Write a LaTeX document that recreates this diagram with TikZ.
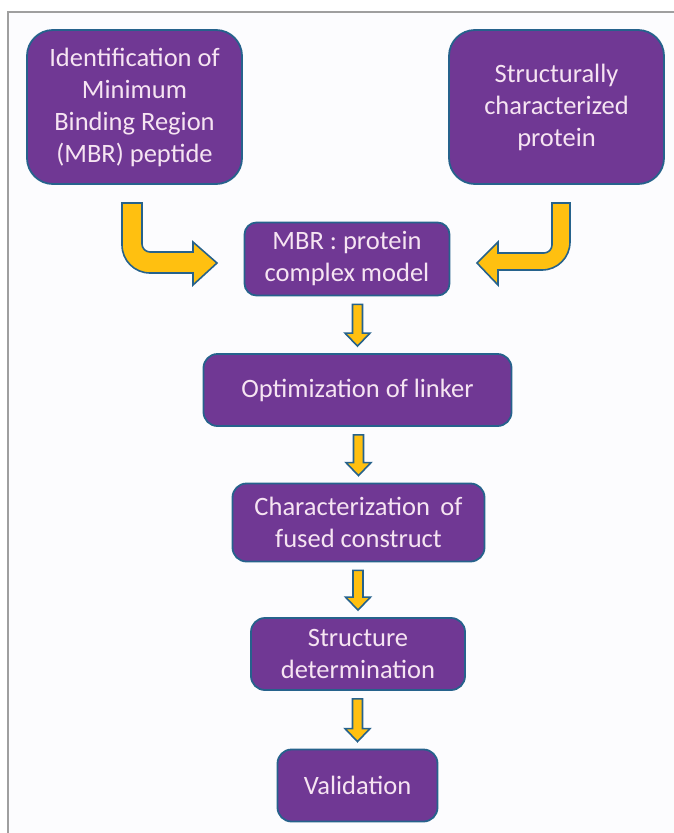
\documentclass[tikz,border=0pt]{standalone}
\usepackage{fontspec}
\setmainfont{Carlito}
\usetikzlibrary{calc}
\definecolor{boxfill}{RGB}{112,56,148}
\definecolor{boxline}{RGB}{38,98,140}
\definecolor{boxtext}{RGB}{246,228,242}
\definecolor{gold}{RGB}{255,192,16}
\definecolor{bg}{RGB}{252,252,254}
\tikzset{
  box/.style={draw=boxline, line width=1.8pt, fill=boxfill, text=boxtext,
    align=center, inner sep=0pt, font=\fontsize{26.5}{32}\selectfont},
  arr/.style={draw=boxline, line width=1.6pt, fill=gold, line join=miter},
}
\newcommand\fatdown[2]{%
  \filldraw[arr] let \p1=(#1.south), \p2=(#2.north), \n1={\x2}, \n2={\y1-8pt}, \n3={\y2+7pt} in
    (\n1-5pt,\n2) -- (\n1+5pt,\n2) -- (\n1+5pt,\n3+13pt) -- (\n1+12.5pt,\n3+13pt)
    -- (\n1,\n3) -- (\n1-12.5pt,\n3+13pt) -- (\n1-5pt,\n3+13pt) -- cycle;}
\begin{document}
\begin{tikzpicture}[x=1pt,y=-1pt]
\useasboundingbox (0,0) rectangle (674,833);
\fill[bg] (8,12) rectangle (674,833);
\draw[gray!75, line width=1.2pt] (8,833) -- (8,12) -- (674,12);

\node[box, minimum width=215pt, minimum height=154pt, rounded corners=26pt] (b1) at (134.5,107)
  {Identification of\\Minimum\\Binding Region\\(MBR) peptide};
\node[box, minimum width=215pt, minimum height=154pt, rounded corners=26pt] (b2) at (556.5,107)
  {Structurally\\characterized\\protein};
\node[box, minimum width=205pt, minimum height=73pt, rounded corners=12pt] (b3) at (347,259)
  {MBR : protein\\complex model};
\node[box, minimum width=308pt, minimum height=72pt, rounded corners=14pt] (b4) at (357.5,390)
  {Optimization of linker};
\node[box, minimum width=252pt, minimum height=78pt, rounded corners=14pt] (b5) at (358.5,522.5)
  {Characterization\, of\\fused construct};
\node[box, minimum width=214pt, minimum height=72pt, rounded corners=14pt] (b6) at (358,654)
  {Structure\\determination};
\node[box, minimum width=160pt, minimum height=72pt, rounded corners=14pt] (b7) at (357.5,785.5)
  {Validation};

% curved arrows
\filldraw[arr] (122,203) -- (122,245) .. controls (122,260.5) and (134.5,273) .. (150,273)
  -- (193,273) -- (193,285) -- (217,263) -- (193,242) -- (193,252) -- (150,252)
  .. controls (145.6,252) and (142,248.4) .. (142,244) -- (142,203) -- cycle;
\filldraw[arr] (552,203) -- (570,203) -- (570,242) .. controls (570,257.5) and (557.5,270) .. (542,270)
  -- (498,270) -- (498,285) -- (477,263) -- (498,242) -- (498,253) -- (544,253)
  .. controls (548.4,253) and (552,249.4) .. (552,245) -- cycle;

\fatdown{b3}{b4}
\fatdown{b4}{b5}
\fatdown{b5}{b6}
\fatdown{b6}{b7}
\end{tikzpicture}
\end{document}
